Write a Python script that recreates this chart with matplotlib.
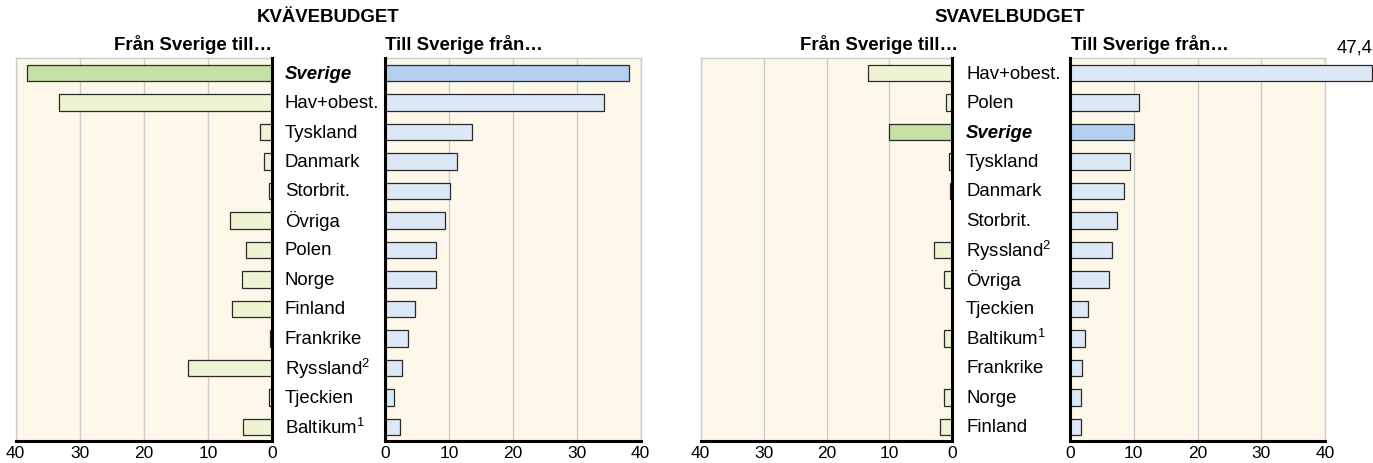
import matplotlib
matplotlib.use('Agg')
import matplotlib.pyplot as plt
import matplotlib.transforms as mtransforms

plt.rcParams['font.family'] = ['Liberation Sans', 'DejaVu Sans']
plt.rcParams['mathtext.fontset'] = 'custom'
plt.rcParams['mathtext.rm'] = 'Liberation Sans'
plt.rcParams['mathtext.default'] = 'regular'

# kvävebudget
kv_lander = ['Sverige', 'Hav+obest.', 'Tyskland', 'Danmark', 'Storbrit.', 'Övriga', 'Polen',
             'Norge', 'Finland', 'Frankrike', 'Ryssland$^2$', 'Tjeckien', 'Baltikum$^1$']
kv_fran = [38.2, 33.3, 1.9, 1.3, 0.5, 6.6, 4.1, 4.8, 6.3, 0.3, 13.2, 0.5, 4.6]
kv_till = [38.2, 34.3, 13.6, 11.3, 10.1, 9.3, 7.9, 7.9, 4.6, 3.6, 2.6, 1.4, 2.3]

# svavelbudget
sv_lander = ['Hav+obest.', 'Polen', 'Sverige', 'Tyskland', 'Danmark', 'Storbrit.', 'Ryssland$^2$',
             'Övriga', 'Tjeckien', 'Baltikum$^1$', 'Frankrike', 'Norge', 'Finland']
sv_fran = [13.4, 1.0, 10.0, 0.5, 0.35, 0, 2.9, 1.3, 0, 1.3, 0, 1.3, 1.9]
sv_till = [47.4, 10.8, 10.0, 9.4, 8.4, 7.4, 6.6, 6.1, 2.9, 2.3, 1.9, 1.7, 1.7]

ticks = [0, 10, 20, 30, 40]

BG = '#fef8ea'
GRON, GRON_SE = '#eef4d3', '#c6e0a6'
BLA, BLA_SE = '#dce8f6', '#b5d0ee'
GRID = '#cccccc'
FS = 13.4

W, H = 1373, 464
fig = plt.figure(figsize=(W / 100, H / 100), dpi=100)


def add_ax(x0, x1):
    return fig.add_axes([x0 / W, 1 - 441.7 / H, (x1 - x0) / W, (441.7 - 59) / H])


def rita(ax, lander, varden, farg, farg_se, vanster):
    y = list(range(len(lander)))
    farger = [farg_se if l == 'Sverige' else farg for l in lander]
    ax.barh(y, varden, height=0.56, color=farger, edgecolor='#2a2a2a', linewidth=0.9,
            clip_on=False, zorder=3)
    ax.set_facecolor(BG)
    ax.set_ylim(len(lander) - 0.53, -0.51)
    if vanster:
        ax.set_xlim(40, 0)
    else:
        ax.set_xlim(0, 40)
    ax.set_xticks(ticks)
    ax.set_yticks([])
    ax.xaxis.grid(True, color=GRID, linewidth=1)
    ax.set_axisbelow(True)
    ax.tick_params(axis='x', length=0, pad=3, labelsize=12.5)
    for s in ax.spines.values():
        s.set_color(GRID)
        s.set_linewidth(1)
    noll = 'right' if vanster else 'left'
    for s in [noll, 'bottom']:
        ax.spines[s].set_color('black')
        ax.spines[s].set_linewidth(2.2)
        ax.spines[s].set_zorder(4)


def etiketter(ax, lander, xpix):
    tr = mtransforms.blended_transform_factory(fig.transFigure, ax.transData)
    for i, l in enumerate(lander):
        if l == 'Sverige':
            fig.text(xpix / W, i, l, transform=tr, va='center', ha='left', fontsize=FS,
                     fontweight='bold', fontstyle='italic')
        else:
            fig.text(xpix / W, i, l, transform=tr, va='center', ha='left', fontsize=FS)


ax1 = add_ax(15.7, 272.3)
ax2 = add_ax(385.3, 640.7)
ax3 = add_ax(700.7, 952.3)
ax4 = add_ax(1070, 1325)

rita(ax1, kv_lander, kv_fran, GRON, GRON_SE, True)
rita(ax2, kv_lander, kv_till, BLA, BLA_SE, False)
rita(ax3, sv_lander, sv_fran, GRON, GRON_SE, True)
rita(ax4, sv_lander, sv_till, BLA, BLA_SE, False)

etiketter(ax1, kv_lander, 285)
etiketter(ax3, sv_lander, 966)

# värde för staplen utanför skalan
ax4.annotate('47,4', xy=(sv_till[0], 0), xytext=(0, 19), textcoords='offset points',
             ha='right', va='center', fontsize=FS, annotation_clip=False)

# rubriker
fig.text(328 / W, 1 - 18 / H, 'KVÄVEBUDGET', ha='center', va='center', fontsize=FS, fontweight='bold')
fig.text(1010 / W, 1 - 18 / H, 'SVAVELBUDGET', ha='center', va='center', fontsize=FS, fontweight='bold')
fig.text(272 / W, 1 - 44 / H, 'Från Sverige till…', ha='right', va='center', fontsize=FS, fontweight='bold')
fig.text(385 / W, 1 - 44 / H, 'Till Sverige från…', ha='left', va='center', fontsize=FS, fontweight='bold')
fig.text(958 / W, 1 - 44 / H, 'Från Sverige till…', ha='right', va='center', fontsize=FS, fontweight='bold')
fig.text(1071 / W, 1 - 44 / H, 'Till Sverige från…', ha='left', va='center', fontsize=FS, fontweight='bold')

fig.savefig('out.png', dpi=100)
